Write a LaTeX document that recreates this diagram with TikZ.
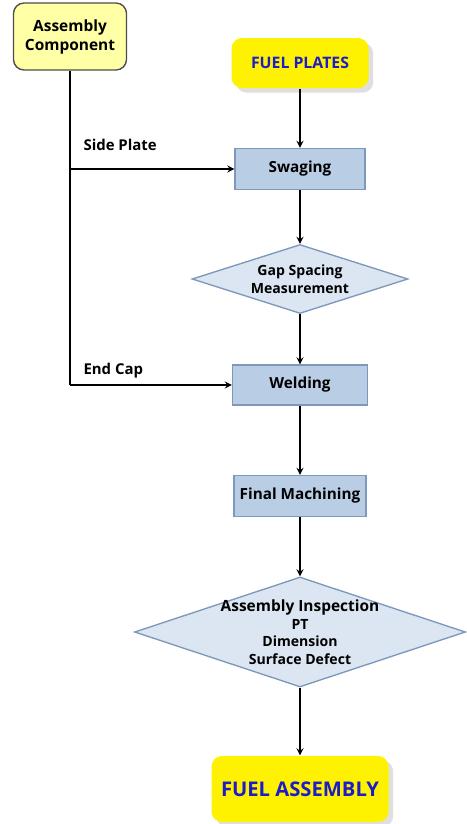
\documentclass[tikz,border=0pt]{standalone}
\usepackage{fontspec}
\setmainfont{Open Sans}
\usetikzlibrary{shapes}
\usetikzlibrary{shadows}

\definecolor{softyellow}{HTML}{FFFFA6}
\definecolor{stepblue}{HTML}{B9CDE5}
\definecolor{stepline}{HTML}{7E98BC}
\definecolor{checkblue}{HTML}{DCE6F2}
\definecolor{textblue}{HTML}{1C1CC8}

\tikzset{
  partbox/.style={draw=black!70,fill=softyellow,rounded corners=6pt,minimum width=2.26cm,minimum height=1.34cm,align=center,font=\fontsize{8.8}{10.8}\selectfont\bfseries},
  fuelbox/.style={fill=yellow,rounded corners=6pt,drop shadow={opacity=0.25},text=textblue,font=\bfseries},
  stepbox/.style={draw=stepline,fill=stepblue,minimum width=2.6cm,minimum height=0.82cm,font=\fontsize{8.7}{10}\selectfont\bfseries},
  checkbox/.style={diamond,draw=stepline,fill=checkblue,inner sep=0pt,aspect=3},
  sidelabel/.style={anchor=south west,font=\fontsize{8.5}{10}\selectfont\bfseries}
}

\begin{document}
\begin{tikzpicture}[->,>=stealth,node distance=2.2cm,line width=0.27mm]
  \useasboundingbox (0,0) rectangle (9.32,-16.48);

  \node[partbox]				(A)	at (1.4,-0.73)	{Assembly\\Component};
  \node[fuelbox,minimum width=2.74cm,minimum height=1cm,font=\fontsize{9}{10}\selectfont\bfseries]
						(P)	at (6.0,-1.26)	{FUEL PLATES};
  \node[stepbox]				(S) [below of=P,node distance=2.12cm]	{Swaging};
  \node[checkbox,minimum width=4.32cm,minimum height=1.38cm,
        label={[align=center,font=\fontsize{8}{10}\selectfont\bfseries]center:Gap Spacing\\Measurement}]
						(G) [below of=S,node distance=2.2cm]	{};
  \node[stepbox,minimum width=2.7cm,minimum height=0.8cm]	(W) [below of=G,node distance=2.12cm]	{Welding};
  \node[stepbox]				(M) [below of=W,node distance=2.22cm]	{Final Machining};
  \node[checkbox,minimum width=6.62cm,minimum height=2.2cm,
        label={[align=center,font=\fontsize{8}{10}\selectfont\bfseries]center:\fontsize{8.8}{10}\selectfont Assembly Inspection\\PT\\Dimension\\Surface Defect}]
						(I) [below of=M,node distance=2.72cm]	{};
  \node[fuelbox,minimum width=3.54cm,minimum height=1.32cm,font=\fontsize{11.5}{13}\selectfont\bfseries]
						(F) [below of=I,node distance=3.14cm]	{FUEL ASSEMBLY};

  \coordinate (sp) at (A.south |- S.west);
  \coordinate (ec) at (A.south |- W.west);

  \path	(P) edge (S)
	(S) edge (G)
	(G) edge (W)
	(W) edge (M)
	(M) edge (I)
	(I) edge (F)
	(A) edge[-] (ec);

  \draw (sp) -- (S) node[sidelabel,pos=0,xshift=0.14cm,yshift=0.24cm] {Side Plate};
  \draw (ec) -- (W) node[sidelabel,pos=0,xshift=0.14cm,yshift=0.0cm] {End Cap};
\end{tikzpicture}
\end{document}
